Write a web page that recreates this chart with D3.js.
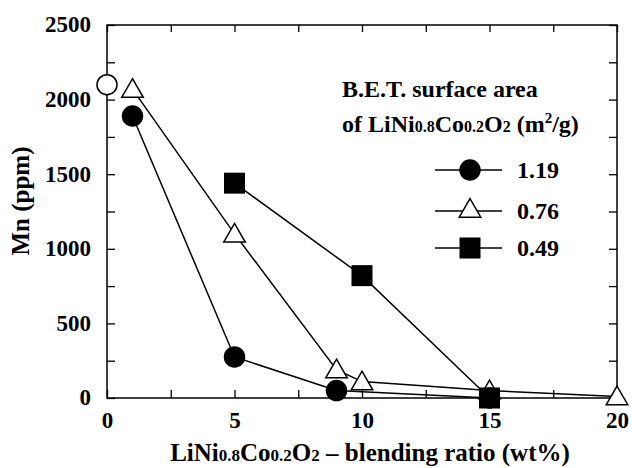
<!DOCTYPE html>
<html lang="en">
<head>
<meta charset="UTF-8">
<title>Mn vs blending ratio</title>
<script src="https://d3js.org/d3.v7.min.js"></script>
<style>
  body { margin: 0; background: #fff; }
  svg { display: block; }
  text { font-family: "Liberation Serif", "Times New Roman", serif; font-weight: bold; fill: #000; }
  .tick text { font-size: 23px; }
</style>
</head>
<body>
<svg id="chart" width="632" height="468"></svg>
<script>
// data
const ratio119 = [1, 5, 9, 15];
const mn119 = [1890, 275, 50, 0];
const ratio076 = [1, 5, 9, 10, 15, 20];
const mn076 = [2070, 1100, 190, 110, 50, 10];
const ratio049 = [5, 10, 15];
const mn049 = [1440, 820, 0];
const ratio0 = [0];
const mn0 = [2100];
const xTicks = [0, 5, 10, 15, 20];
const yTicks = [0, 500, 1000, 1500, 2000, 2500];
const legendLabels = ["1.19", "0.76", "0.49"];

const svg = d3.select("#chart");
const pL = 107, pR = 617, pT = 25, pB = 398;

const x = d3.scaleLinear().domain([0, 20]).range([pL, pR]);
const y = d3.scaleLinear().domain([0, 2500]).range([pB, pT]);

const zip = (xs, ys) => xs.map((v, i) => [v, ys[i]]);
const s119 = zip(ratio119, mn119);
const s076 = zip(ratio076, mn076);
const s049 = zip(ratio049, mn049);
const s0 = zip(ratio0, mn0);

// frame
svg.append("rect")
  .attr("x", pL).attr("y", pT)
  .attr("width", pR - pL).attr("height", pB - pT)
  .attr("fill", "none").attr("stroke", "#000").attr("stroke-width", 1.5);

const minorX = d3.range(0, 20.01, 2.5);
const minorY = d3.range(0, 2500.1, 250);

// inward ticks on all four sides
function tidy(g) {
  g.selectAll(".domain").remove();
  g.selectAll("line").attr("stroke-width", 1.3);
}
svg.append("g").attr("transform", `translate(0,${pB})`)
  .call(d3.axisBottom(x).tickValues(minorX).tickSizeInner(-8).tickSizeOuter(0)
    .tickFormat(d => xTicks.includes(d) ? d : "").tickPadding(13))
  .call(tidy)
  .call(g => g.selectAll("text").attr("dy", "0.75em"));
svg.append("g").attr("transform", `translate(0,${pT})`)
  .call(d3.axisTop(x).tickValues(minorX).tickSizeInner(-7).tickSizeOuter(0).tickFormat(""))
  .call(tidy);
svg.append("g").attr("transform", `translate(${pL},0)`)
  .call(d3.axisLeft(y).tickValues(minorY).tickSizeInner(-8).tickSizeOuter(0)
    .tickFormat(d => yTicks.includes(d) ? d : "").tickPadding(16))
  .call(tidy)
  .call(g => g.selectAll("text").attr("dy", "0.3em"));
svg.append("g").attr("transform", `translate(${pR},0)`)
  .call(d3.axisRight(y).tickValues(minorY).tickSizeInner(-8).tickSizeOuter(0).tickFormat(""))
  .call(tidy);
svg.selectAll("g[font-family]").attr("font-family", null).attr("font-size", null);

// lines
const line = d3.line().x(d => x(d[0])).y(d => y(d[1]));
[s119, s076, s049].forEach(s => {
  svg.append("path").datum(s).attr("d", line)
    .attr("fill", "none").attr("stroke", "#000").attr("stroke-width", 1.5);
});

// marker shapes
const tri = d3.symbol().type(d3.symbolTriangle).size(200);
function drawTri(g, cx, cy) {
  g.append("path").attr("d", tri()).attr("transform", `translate(${cx},${cy + 2})`)
    .attr("fill", "#fff").attr("stroke", "#000").attr("stroke-width", 1.5);
}
function drawCircle(g, cx, cy, filled) {
  g.append("circle").attr("cx", cx).attr("cy", cy).attr("r", 10)
    .attr("fill", filled ? "#000" : "#fff").attr("stroke", "#000").attr("stroke-width", 1.5);
}
function drawSquare(g, cx, cy) {
  g.append("rect").attr("x", cx - 10.5).attr("y", cy - 10.5).attr("width", 21).attr("height", 21)
    .attr("fill", "#000");
}

const marks = svg.append("g");
s076.forEach(d => drawTri(marks, x(d[0]), y(d[1])));
s119.forEach(d => drawCircle(marks, x(d[0]), y(d[1]), true));
s049.forEach(d => drawSquare(marks, x(d[0]), y(d[1])));
s0.forEach(d => drawCircle(marks, x(d[0]), y(d[1]), false));

// chemical formula with small inline subscripts
function formula(t, sub) {
  t.append("tspan").text("LiNi");
  t.append("tspan").attr("font-size", sub).text("0.8");
  t.append("tspan").text("Co");
  t.append("tspan").attr("font-size", sub).text("0.2");
  t.append("tspan").text("O");
  t.append("tspan").attr("font-size", sub).text("2");
}

// legend
const lg = svg.append("g");
lg.append("text").attr("x", 342).attr("y", 97).attr("font-size", 24).text("B.E.T. surface area");
const t2 = lg.append("text").attr("x", 342).attr("y", 132).attr("font-size", 24);
t2.append("tspan").text("of ");
formula(t2, 16);
t2.append("tspan").text(" (m");
t2.append("tspan").attr("font-size", 15).attr("dy", -9).text("2");
t2.append("tspan").attr("dy", 9).text("/g)");

const legendY = [170, 211, 248];
legendLabels.forEach((lab, i) => {
  const ly = legendY[i];
  lg.append("line").attr("x1", 435).attr("x2", 502).attr("y1", ly).attr("y2", ly)
    .attr("stroke", "#000").attr("stroke-width", 1.5);
  if (i === 0) drawCircle(lg, 470, ly, true);
  if (i === 1) drawTri(lg, 470, ly - 2);
  if (i === 2) drawSquare(lg, 470, ly);
  lg.append("text").attr("x", 517).attr("y", ly + 8).attr("font-size", 24).text(lab);
});

// axis titles
const xt = svg.append("text").attr("x", 370).attr("y", 461).attr("text-anchor", "middle").attr("font-size", 25);
formula(xt, 17);
xt.append("tspan").text(" \u2013 blending ratio (wt%)");

svg.append("text").attr("transform", "translate(29,201) rotate(-90)")
  .attr("text-anchor", "middle").attr("font-size", 25).text("Mn (ppm)");
</script>
</body>
</html>
